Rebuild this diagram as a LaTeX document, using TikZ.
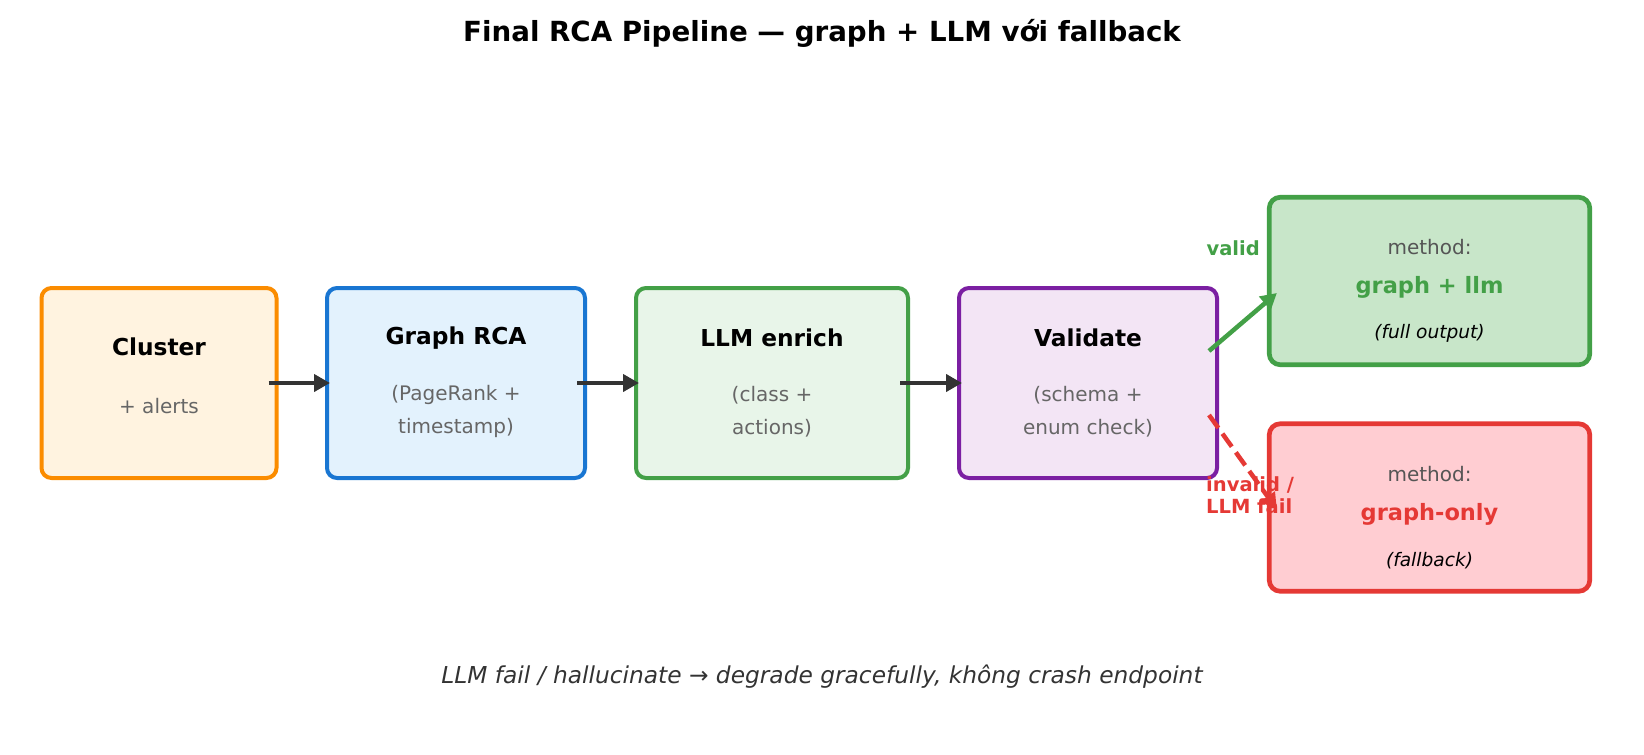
\documentclass[tikz,border=0pt]{standalone}
\usepackage{fontspec}
\setmainfont{DejaVu Sans}
\usetikzlibrary{arrows.meta,positioning,calc}
\definecolor{ClOrange}{HTML}{FB8C00}
\definecolor{ClOrangeBg}{HTML}{FFF3E0}
\definecolor{RcaBlue}{HTML}{1976D2}
\definecolor{RcaBlueBg}{HTML}{E3F2FD}
\definecolor{LlmGreen}{HTML}{43A047}
\definecolor{LlmGreenBg}{HTML}{E8F5E9}
\definecolor{ValPurple}{HTML}{7B1FA2}
\definecolor{ValPurpleBg}{HTML}{F3E5F5}
\definecolor{OutGreenBg}{HTML}{C8E6C9}
\definecolor{FailRed}{HTML}{E53935}
\definecolor{FailRedBg}{HTML}{FFCDD2}
\definecolor{PipeInk}{HTML}{333333}
\definecolor{PipeGray}{HTML}{666666}
\definecolor{PipeMuted}{HTML}{555555}
\tikzset{
  pipetitle/.style={font=\fontsize{27.7}{33}\selectfont\bfseries},
  pipefoot/.style={font=\fontsize{23.3}{28}\selectfont\itshape, text=PipeInk},
  stagebox/.style={line width=4pt, rounded corners=10pt, minimum height=190pt},
  stagename/.style={font=\fontsize{23.3}{28}\selectfont\bfseries},
  stagenote/.style={font=\fontsize{20}{33}\selectfont, text=PipeGray, align=center},
  outbox/.style={line width=4.7pt, rounded corners=11pt, minimum width=320.5pt, minimum height=167.5pt},
  outlabel/.style={font=\fontsize{20}{24}\selectfont, text=PipeMuted},
  outvalue/.style={font=\fontsize{22.5}{27}\selectfont\bfseries},
  outnote/.style={font=\fontsize{18.6}{22}\selectfont\itshape},
  branchlabel/.style={font=\fontsize{19.5}{22}\selectfont\bfseries, align=left},
  headtip/.tip={Triangle[length=16pt, width=17pt]},
  flowarrow/.style={-headtip, line width=4.5pt, draw=PipeInk},
  okarrow/.style={-headtip, line width=4.5pt, draw=LlmGreen},
  failarrow/.style={-headtip, line width=4.5pt, draw=FailRed, dash pattern=on 16pt off 7pt}
}

\begin{document}
\begin{tikzpicture}[x=1pt, y=-1pt, every node/.style={inner sep=0pt}]
\useasboundingbox (0,0) rectangle (1644,755);
\node[pipetitle] (title) at (822,33) {Final RCA Pipeline — graph + LLM với fallback};

% pipeline stages
\foreach \id/\x/\w/\edge/\bg in {cl/159/235/ClOrange/ClOrangeBg, gr/456/258/RcaBlue/RcaBlueBg,
    llm/772/272/LlmGreen/LlmGreenBg, val/1088/258/ValPurple/ValPurpleBg} {
  \node[stagebox, draw=\edge, fill=\bg, minimum width=\w pt] (\id) at (\x,383) {};
}
\node[stagename] (cl-name) at ($(cl.center)+(0,-36)$) {Cluster};
\node[stagenote] (cl-note) at ($(cl.center)+(0,23)$) {+ alerts};
\node[stagename] (gr-name) at ($(gr.center)+(0,-45)$) {Graph RCA};
\node[stagenote] (gr-note) at ($(gr.center)+(0,28.5)$) {(PageRank +\\timestamp)};
\node[stagename] (llm-name) at ($(llm.center)+(0,-45)$) {LLM enrich};
\node[stagenote] (llm-note) at ($(llm.center)+(0,28.5)$) {(class +\\actions)};
\node[stagename] (val-name) at ($(val.center)+(0,-45)$) {Validate};
\node[stagenote] (val-note) at ($(val.center)+(0,28.5)$) {(schema +\\enum check)};

\foreach \a/\b in {cl/gr, gr/llm, llm/val} {
  \draw[flowarrow] ([xshift=-10pt]\a.east) -- ([xshift=5pt]\b.west);
}

% outcomes
\node[outbox, draw=LlmGreen, fill=OutGreenBg] (full) at (1429.5,281) {};
\node[outlabel] (full-m) at ($(full.center)+(0,-34)$) {method:};
\node[outvalue, text=LlmGreen] (full-v) at ($(full.center)+(0,6.5)$) {graph + llm};
\node[outnote] (full-n) at ($(full.center)+(0,52)$) {(full output)};

\node[outbox, draw=FailRed, fill=FailRedBg] (fallback) at (1429.5,507.5) {};
\node[outlabel] (fallback-m) at ($(fallback.center)+(0,-33.5)$) {method:};
\node[outvalue, text=FailRed] (fallback-v) at ($(fallback.center)+(0,6.5)$) {graph-only};
\node[outnote] (fallback-n) at ($(fallback.center)+(0,53)$) {(fallback)};

\draw[okarrow] ($(val.east)+(-10,-32)$) -- ($(full.west)+(10,12)$);
\draw[failarrow] ($(val.east)+(-10,32)$) -- ($(fallback.west)+(10,2)$);
\node[branchlabel, text=LlmGreen, anchor=east] (valid-lbl) at (1260,248) {valid};
\node[branchlabel, text=FailRed, anchor=west] (invalid-lbl) at (1206,495) {invalid /\\LLM fail};

\node[pipefoot] (foot) at (822,677) {LLM fail / hallucinate → degrade gracefully, không crash endpoint};
\end{tikzpicture}
\end{document}
